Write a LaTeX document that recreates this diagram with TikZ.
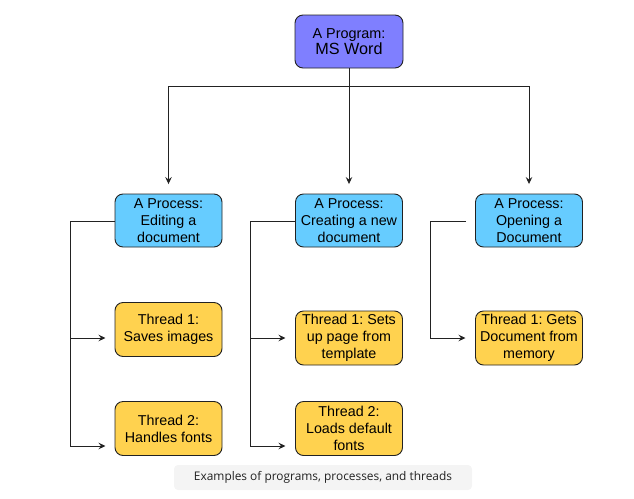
\documentclass[tikz,border=0pt]{standalone}
\usepackage{fontspec}
\setmainfont{Liberation Sans}
\newfontfamily\capfont{Open Sans}
\usetikzlibrary{arrows.meta}
\frenchspacing
\definecolor{progfill}{HTML}{7F7FFF}
\definecolor{procfill}{HTML}{66CCFF}
\definecolor{thrfill}{HTML}{FFD24F}
\definecolor{edge}{HTML}{222222}
\definecolor{capbg}{HTML}{F4F4F4}
\definecolor{captext}{HTML}{222222}
\tikzset{
  box/.style={draw=edge, line width=0.9pt, rounded corners=8pt, align=center,
    minimum width=107pt, minimum height=53pt, inner sep=2pt,
    font=\fontsize{14.3}{17}\selectfont, text=black},
  progbox/.style={box, fill=progfill, minimum width=108pt},
  procbox/.style={box, fill=procfill},
  thrbox/.style={box, fill=thrfill, minimum height=54pt},
  conn/.style={draw=edge, line width=0.9pt},
  arr/.style={conn, -{Stealth[length=7pt,width=6.5pt,inset=2.5pt]}, shorten >=9.5pt},
}
\begin{document}
\begin{tikzpicture}[x=1pt,y=-1pt]
\useasboundingbox (0,0) rectangle (634,498);

\node[progbox] (prog) at (349,41.5) {\fontsize{14.4}{16}\selectfont A Program:\\[-1pt]\fontsize{16.2}{18}\selectfont MS Word};

\node[procbox] (p1) at (168.5,220.5) {A Process:\\Editing a\\document};
\node[procbox] (p2) at (349,220.5) {A Process:\\Creating a new\\document};
\node[procbox] (p3) at (529,220.5) {A Process:\\Opening a\\Document};

\node[thrbox] (t1a) at (168.5,329.5) {Thread 1:\\Saves images};
\node[thrbox] (t1b) at (168.5,428.5) {Thread 2:\\Handles fonts};
\node[thrbox] (t2a) at (349,338) {Thread 1: Sets\\up page from\\template};
\node[thrbox] (t2b) at (349,428.5) {Thread 2:\\Loads default\\fonts};
\node[thrbox] (t3a) at (529,338) {Thread 1: Gets\\Document from\\memory};

% top connectors
\coordinate (hub) at (349,86);
\draw[conn] (p1.north |- hub) -- (p3.north |- hub);
\draw[arr] (prog.south) -- (p2.north);
\draw[arr] (hub) -| (p1.north);
\draw[arr] (hub) -| (p3.north);

% process 1
\coordinate (l1) at (70,221);
\coordinate (t1aIn) at (115,338);
\coordinate (t1bIn) at (115,446);
\draw[conn] (p1.west |- l1) -- (l1) -- (l1 |- t1bIn);
\draw[arr] (l1 |- t1aIn) -- (t1aIn);
\draw[arr] (l1 |- t1bIn) -- (t1bIn);

% process 2
\coordinate (l2) at (250,221);
\coordinate (t2aIn) at (295,338);
\coordinate (t2bIn) at (295,446);
\draw[conn] (p2.west |- l2) -- (l2) -- (l2 |- t2bIn);
\draw[arr] (l2 |- t2aIn) -- (t2aIn);
\draw[arr] (l2 |- t2bIn) -- (t2bIn);

% process 3
\coordinate (s3) at (466,221);
\coordinate (l3) at (430,221);
\coordinate (t3aIn) at (475,338);
\draw[arr] (s3) -- (l3) |- (t3aIn);

% caption
\node[fill=capbg, rounded corners=4pt, minimum width=298pt, minimum height=25pt, inner sep=0pt,
  font=\capfont\fontsize{11.9}{14}\selectfont, text=captext] (cap) at (323,477.5)
  {Examples of programs, processes, and threads};
\end{tikzpicture}
\end{document}
